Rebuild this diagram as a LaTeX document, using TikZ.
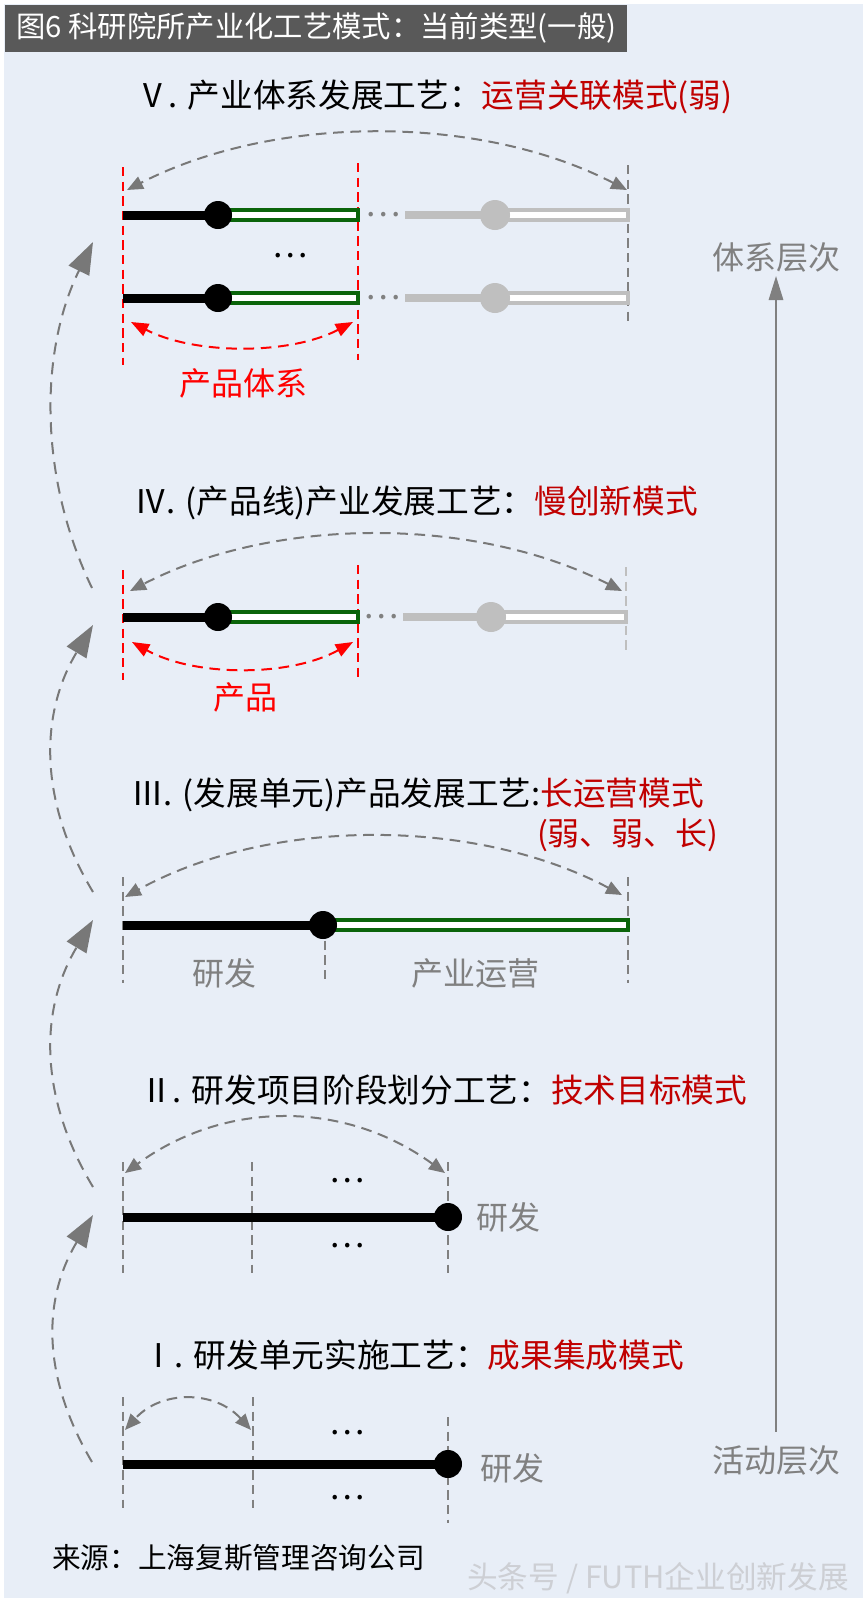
\documentclass[tikz,border=0pt]{standalone}
\usepackage{fontspec}
\setmainfont{Noto Sans CJK SC}
\usetikzlibrary{arrows.meta}

\definecolor{panelbg}{RGB}{232,238,247}
\definecolor{titlebg}{RGB}{89,89,89}
\definecolor{headred}{RGB}{192,0,0}
\definecolor{markred}{RGB}{255,0,0}
\definecolor{stagegreen}{RGB}{10,100,10}
\definecolor{fadegray}{RGB}{191,191,191}
\definecolor{labelgray}{RGB}{128,128,128}
\definecolor{arcgray}{RGB}{120,120,120}
\definecolor{markgray}{RGB}{205,207,212}

\begin{document}
\begin{tikzpicture}[x=0.75pt,y=0.75pt,yscale=-1,xscale=1,
  headtext/.style={anchor=west,inner sep=0pt,font=\fontsize{24.5}{28}\selectfont},
  labeltext/.style={inner sep=0pt,font=\fontsize{24}{28}\selectfont},
  dotstext/.style={inner sep=0pt,font=\fontsize{25}{27}\selectfont},
  redcut/.style={markred,line width=1.1pt,dash pattern=on 7pt off 4pt},
  graycut/.style={labelgray,line width=1.1pt,dash pattern=on 7pt off 4pt},
  runbar/.style={line width=6.75pt},
  fadebar/.style={fadegray,line width=6pt},
  greenbox/.style={draw=stagegreen,line width=2.5pt,fill=white},
  fadebox/.style={draw=fadegray,line width=2.3pt,fill=white},
  spanarc/.style={arcgray,line width=1.5pt,dash pattern=on 8pt off 5pt,{Triangle[length=12pt,width=10pt]}-{Triangle[length=12pt,width=10pt]}},
  redarc/.style={markred,line width=1.5pt,dash pattern=on 8pt off 5pt,{Triangle[length=13pt,width=10pt]}-{Triangle[length=13pt,width=10pt]}},
  liftarrow/.style={arcgray,line width=1.5pt,dash pattern=on 9pt off 6pt,-{Triangle[length=24pt,width=17pt]}},
  levelarrow/.style={labelgray,line width=0.8pt,-{Triangle[length=18pt,width=11pt]}}
]
\useasboundingbox (0,0) rectangle (866,1603);

%Background
\fill[white] (0,0) rectangle (866,1603);
\fill[panelbg] (4,4) rectangle (863,1598);
%Title bar
\fill[titlebg] (5,5) rectangle (627,52);
% Text Node
\node[anchor=west,inner sep=0pt,white,font=\fontsize{22}{26}\selectfont] (title) at (16,28) {图6 科研院所产业化工艺模式：当前类型(一般)};

%Level V
% Text Node
\node[headtext] (headV) at (136,97) {Ⅴ. 产业体系发展工艺：\textcolor{headred}{运营关联模式(弱)}};
%Straight Lines
\draw[redcut] (123,167) -- (123,365);
\draw[redcut] (358,163) -- (358,360);
\draw[graycut] (628,165) -- (628,325);
%Row 1
\draw[runbar] (123,215) -- (218,215);
\draw[greenbox] (218,210) rectangle (358,220);
\fill (218,215) circle (14);
\node[dotstext,labelgray] (vGapA) at (383,215) {…};
\draw[fadebar] (405,215) -- (495,215);
\draw[fadebox] (495,210) rectangle (628,220);
\fill[fadegray] (495,215) circle (15);
% Text Node
\node[dotstext] (vSkip) at (290,256) {…};
%Row 2
\draw[runbar] (123,298) -- (218,298);
\draw[greenbox] (218,293) rectangle (358,303);
\fill (218,298) circle (14);
\node[dotstext,labelgray] (vGapB) at (383,298) {…};
\draw[fadebar] (405,298) -- (495,298);
\draw[fadebox] (495,293) rectangle (628,303);
\fill[fadegray] (495,298) circle (15);
%Arcs
\coordinate (vL) at (127,190);
\coordinate (vR) at (627,190);
\draw[spanarc] (vR) .. controls (480,114) and (275,114) .. (vL);
\coordinate (vPL) at (131,322);
\coordinate (vPR) at (353,322);
\draw[redarc] (vPR) .. controls (290,355) and (195,355) .. (vPL);
% Text Node
\node[labeltext,markred] (vProd) at (243,383) {产品体系};

%Level IV
% Text Node
\node[headtext] (headIV) at (134,503) {Ⅳ. (产品线)产业发展工艺：\textcolor{headred}{慢创新模式}};
%Straight Lines
\draw[redcut] (123,570) -- (123,680);
\draw[redcut] (358,565) -- (358,678);
\draw[graycut,fadegray] (626,567) -- (626,653);
%Row
\draw[runbar] (123,617) -- (218,617);
\draw[greenbox] (218,612) rectangle (358,622);
\fill (218,617) circle (14);
\node[dotstext,labelgray] (ivGap) at (381,617) {…};
\draw[fadebar] (403,617) -- (491,617);
\draw[fadebox] (491,612) rectangle (626,622);
\fill[fadegray] (491,617) circle (15);
%Arcs
\coordinate (ivL) at (130,591);
\coordinate (ivR) at (622,591);
\draw[spanarc] (ivR) .. controls (475,516) and (275,516) .. (ivL);
\coordinate (ivPL) at (132,642);
\coordinate (ivPR) at (353,642);
\draw[redarc] (ivPR) .. controls (290,677) and (195,677) .. (ivPL);
% Text Node
\node[labeltext,markred] (ivProd) at (245,697) {产品};

%Level III
% Text Node
\node[headtext] (headIII) at (131,795) {Ⅲ. (发展单元)产品发展工艺:\textcolor{headred}{长运营模式}};
\node[labeltext,headred,anchor=east] (headIIIb) at (719,835) {(弱、弱、长)};
%Straight Lines
\draw[graycut] (123,877) -- (123,983);
\draw[graycut] (325,926) -- (325,983);
\draw[graycut] (628,877) -- (628,983);
%Row
\draw[runbar] (123,925) -- (323,925);
\draw[greenbox] (323,920) rectangle (628,930);
\fill (323,925) circle (14);
%Arc
\coordinate (iiiL) at (125,897);
\coordinate (iiiR) at (622,895);
\draw[spanarc] (iiiR) .. controls (475,817) and (270,817) .. (iiiL);
% Text Node
\node[labeltext,labelgray] (iiiRnd) at (224,973) {研发};
% Text Node
\node[labeltext,labelgray] (iiiOps) at (475,973) {产业运营};

%Level II
% Text Node
\node[headtext] (headII) at (140,1090) {Ⅱ. 研发项目阶段划分工艺：\textcolor{headred}{技术目标模式}};
%Straight Lines
\draw[graycut] (123,1162) -- (123,1273);
\draw[graycut] (252,1162) -- (252,1273);
\draw[graycut] (448,1162) -- (448,1273);
%Row
\draw[runbar] (123,1217) -- (448,1217);
\fill (448,1217) circle (14);
\node[dotstext] (iiSkipA) at (347,1181) {…};
\node[dotstext] (iiSkipB) at (347,1246) {…};
%Arc
\coordinate (iiL) at (125,1173);
\coordinate (iiR) at (445,1173);
\draw[spanarc] (iiR) .. controls (345,1100) and (225,1100) .. (iiL);
% Text Node
\node[labeltext,labelgray] (iiRnd) at (508,1217) {研发};

%Level I
% Text Node
\node[headtext] (headI) at (142,1355) {Ⅰ. 研发单元实施工艺：\textcolor{headred}{成果集成模式}};
%Straight Lines
\draw[graycut] (123,1397) -- (123,1508);
\draw[graycut] (253,1397) -- (253,1508);
\draw[graycut] (448,1417) -- (448,1523);
%Row
\draw[runbar] (123,1464) -- (448,1464);
\fill (448,1464) circle (14);
\node[dotstext] (iSkipA) at (347,1433) {…};
\node[dotstext] (iSkipB) at (347,1498) {…};
%Arc
\coordinate (iL) at (125,1430);
\coordinate (iR) at (251,1430);
\draw[spanarc] (iR) .. controls (215,1390) and (161,1390) .. (iL);
% Text Node
\node[labeltext,labelgray] (iRnd) at (512,1468) {研发};

%Lift arrows
\coordinate (liftA) at (92,1462);
\coordinate (liftB) at (93,1215);
\draw[liftarrow] (liftA) .. controls (42,1377) and (42,1300) .. (liftB);
\coordinate (liftC) at (93,1187);
\coordinate (liftD) at (93,920);
\draw[liftarrow] (liftC) .. controls (39,1097) and (39,1010) .. (liftD);
\coordinate (liftE) at (93,892);
\coordinate (liftF) at (93,625);
\draw[liftarrow] (liftE) .. controls (39,802) and (39,715) .. (liftF);
\coordinate (liftG) at (92,588);
\coordinate (liftH) at (93,242);
\draw[liftarrow] (liftG) .. controls (39,478) and (39,352) .. (liftH);

%Level axis
% Text Node
\node[labeltext,labelgray] (sysLevel) at (776,257) {体系层次};
% Text Node
\node[labeltext,labelgray] (actLevel) at (776,1460) {活动层次};
\draw[levelarrow,shorten <=10pt,shorten >=3pt] (actLevel) -- (sysLevel);

% Text Node
\node[anchor=west,inner sep=0pt,font=\fontsize{21.5}{26}\selectfont] (source) at (52,1558) {来源：上海复斯管理咨询公司};
% Text Node
\node[anchor=west,inner sep=0pt,markgray,font=\fontsize{23}{26}\selectfont] (stamp) at (467,1578) {头条号 / FUTH企业创新发展};

\end{tikzpicture}
\end{document}
